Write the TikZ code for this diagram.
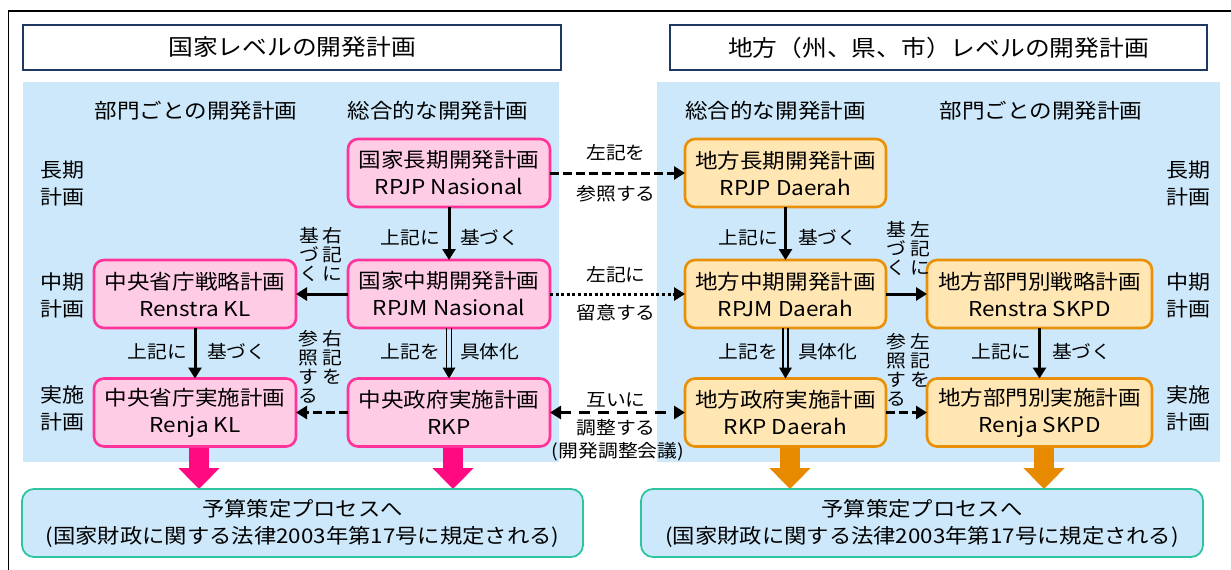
\documentclass[tikz,border=0pt]{standalone}
\usepackage{fontspec}
\setmainfont{Noto Sans CJK JP}[FakeStretch=1.1]
\usetikzlibrary{arrows.meta,calc}
\definecolor{panelblue}{HTML}{CCE8FA}
\definecolor{pinkfill}{HTML}{FFCCE6}
\definecolor{pinkline}{HTML}{FF3399}
\definecolor{pinkarrow}{HTML}{FF0A80}
\definecolor{orfill}{HTML}{FFE6B3}
\definecolor{orline}{HTML}{E8900A}
\definecolor{orarrow}{HTML}{E88A00}
\definecolor{tealline}{HTML}{2EC4A0}
\definecolor{navyline}{HTML}{203864}
\newcommand{\fsz}[2]{\fontsize{#1}{#2}\selectfont}
\pgfdeclarelayer{bg}
\pgfsetlayers{bg,main}
\begin{document}
\begin{tikzpicture}[x=1pt,y=-1pt,
  every node/.style={inner sep=0pt, outer sep=0pt},
  titlebox/.style={draw=navyline, line width=2.7pt, fill=white, minimum height=45pt, font=\fsz{22.5}{27}},
  plan/.style={rounded corners=10pt, line width=2.6pt, minimum height=68pt, align=center, font=\fsz{20.5}{27}},
  pbox/.style={plan, draw=pinkline, fill=pinkfill, minimum width=202pt},
  obox/.style={plan, draw=orline, fill=orfill, minimum width=201pt},
  owbox/.style={obox, minimum width=225pt},
  head/.style={font=\fsz{20.5}{24}},
  rowlab/.style={align=center, font=\fsz{20}{27}},
  lab/.style={font=\fsz{18}{22}},
  vlab/.style={align=center, anchor=north, font=\fsz{18}{19}},
  budget/.style={draw=tealline, fill=panelblue, line width=1.8pt, rounded corners=12pt, minimum height=68pt, align=center, font=\fsz{20.3}{27}},
  conn/.style={line width=3pt, -{Triangle[length=11pt,width=13pt]}},
  dashconn/.style={conn, dash pattern=on 9pt off 4pt},
  dotconn/.style={conn, dash pattern=on 3pt off 2.6pt},
  longdash/.style={line width=3pt, dash pattern=on 11pt off 8pt, {Triangle[length=11pt,width=13pt]}-{Triangle[length=11pt,width=13pt]}},
  dbl/.style={line width=1.5pt},
  parrow/.style={draw=pinkarrow, line width=20pt, -{Triangle[length=21pt,width=40pt]}},
  oarrow/.style={draw=orarrow, line width=20pt, -{Triangle[length=21pt,width=40pt]}}
]
\useasboundingbox (0,0) rectangle (1231,570);
% outer frame
\draw[line width=1.5pt] (8.7,570) -- (8.7,11) -- (1231,11);
% titles
\node[titlebox, minimum width=538pt] (tl) at (292,47.5) {国家レベルの開発計画};
\node[titlebox, minimum width=537pt] (tr) at (938.5,47.5) {地方（州、県、市）レベルの開発計画};
% headers
\node[head] (h1) at (196,111) {部門ごとの開発計画};
\node[head] (h2) at (438,111) {総合的な開発計画};
\node[head] (h3) at (775.5,111) {総合的な開発計画};
\node[head] (h4) at (1041,111) {部門ごとの開発計画};
% row labels
\node[rowlab] (r1) at (62,184) {長期\\計画};
\node[rowlab] (r2) at (62,295) {中期\\計画};
\node[rowlab] (r3) at (62,408) {実施\\計画};
\node[rowlab] (r4) at (1188,184) {長期\\計画};
\node[rowlab] (r5) at (1188,295) {中期\\計画};
\node[rowlab] (r6) at (1188,408) {実施\\計画};
% boxes
\node[pbox] (nl) at (449,173) {国家長期開発計画\\RPJP Nasional};
\node[pbox] (nm) at (449,294) {国家中期開発計画\\RPJM Nasional};
\node[pbox] (nr) at (449,412.5) {中央政府実施計画\\RKP};
\node[pbox] (ks) at (195,294) {中央省庁戦略計画\\Renstra KL};
\node[pbox] (kr) at (195,412.5) {中央省庁実施計画\\Renja KL};
\node[obox] (dl) at (785.5,173) {地方長期開発計画\\RPJP Daerah};
\node[obox] (dm) at (785.5,294) {地方中期開発計画\\RPJM Daerah};
\node[obox] (dr) at (785.5,412.5) {地方政府実施計画\\RKP Daerah};
\node[owbox] (ds) at (1039.5,294) {地方部門別戦略計画\\Renstra SKPD};
\node[owbox] (dk) at (1039.5,412.5) {地方部門別実施計画\\Renja SKPD};
% budget boxes
\node[budget, minimum width=561pt] (bl) at (302.5,523) {予算策定プロセスへ\\(国家財政に関する法律2003年第17号に規定される)};
\node[budget, minimum width=562pt] (br) at (922,523) {予算策定プロセスへ\\(国家財政に関する法律2003年第17号に規定される)};
% background: panels and thick arrows
\begin{pgfonlayer}{bg}
\fill[panelblue] (23,82) rectangle (559,462);
\fill[panelblue] (657,82) rectangle (1220,462);
\coordinate (pa1) at ($(kr.south)+(4,0)$);
\coordinate (pa2) at ($(nr.south)+(4,0)$);
\coordinate (oa1) at ($(dr.south)+(4.5,0)$);
\coordinate (oa2) at ($(dk.south)+(4.5,0)$);
\draw[parrow] (pa1) -- (pa1 |- bl.north);
\draw[parrow] (pa2) -- (pa2 |- bl.north);
\draw[oarrow] (oa1) -- (oa1 |- br.north);
\draw[oarrow] (oa2) -- (oa2 |- br.north);
\end{pgfonlayer}
% national connectors
\draw[conn] (nl) -- (nm);
\draw[conn] (nm) -- (ks);
\draw[conn] (ks) -- (kr);
\draw[dashconn] (nr) -- (kr);
\draw[dbl] ($(nm.south)+(-2.6,0)$) -- ($(nr.north)+(-2.6,-9)$);
\draw[dbl] ($(nm.south)+(2.6,0)$) -- ($(nr.north)+(2.6,-9)$);
\fill (nr.north) -- ++(-6.5,-11) -- ++(13,0) -- cycle;
% regional connectors
\draw[conn] (dl) -- (dm);
\draw[conn] (dm) -- (ds);
\draw[conn] (ds) -- (dk);
\draw[dashconn] (dr) -- (dk);
\draw[dbl] ($(dm.south)+(-2.6,0)$) -- ($(dr.north)+(-2.6,-9)$);
\draw[dbl] ($(dm.south)+(2.6,0)$) -- ($(dr.north)+(2.6,-9)$);
\fill (dr.north) -- ++(-6.5,-11) -- ++(13,0) -- cycle;
% cross connectors
\draw[dashconn] (nl) -- (dl);
\draw[dotconn] (nm) -- (dm);
\draw[longdash] (nr) -- (dr);
% arrow labels
\node[lab, anchor=east] (a1) at (440,238) {上記に};
\node[lab, anchor=west] (a2) at (460,238) {基づく};
\node[lab, anchor=east] (a3) at (187,352) {上記に};
\node[lab, anchor=west] (a4) at (207,352) {基づく};
\node[lab, anchor=east] (a5) at (440,352) {上記を};
\node[lab, anchor=west] (a6) at (460,352) {具体化};
\node[lab, anchor=east] (a7) at (778,238) {上記に};
\node[lab, anchor=west] (a8) at (798,238) {基づく};
\node[lab, anchor=east] (a9) at (778,352) {上記を};
\node[lab, anchor=west] (a10) at (798,352) {具体化};
\node[lab, anchor=east] (a11) at (1031,352) {上記に};
\node[lab, anchor=west] (a12) at (1052,352) {基づく};
% middle labels
\node[lab] (m1) at (616,152.5) {左記を};
\node[lab] (m2) at (616,193.5) {参照する};
\node[lab] (m3) at (616,275) {左記に};
\node[lab] (m4) at (616,313) {留意する};
\node[lab] (m5) at (616,400) {互いに};
\node[lab] (m6) at (616,428) {調整する};
\node[lab] (m7) at (618,452) {(開発調整会議)};
% vertical labels
\node[vlab] (v1a) at (332,227) {右\\記\\に};
\node[vlab] (v1b) at (309,227) {基\\づ\\く};
\node[vlab] (v2a) at (332,330) {右\\記\\を};
\node[vlab] (v2b) at (308,330) {参\\照\\す\\る};
\node[vlab] (v3a) at (920.5,221) {左\\記\\に};
\node[vlab] (v3b) at (896.5,221) {基\\づ\\く};
\node[vlab] (v4a) at (920,333) {左\\記\\を};
\node[vlab] (v4b) at (896.5,333) {参\\照\\す\\る};
\end{tikzpicture}
\end{document}
